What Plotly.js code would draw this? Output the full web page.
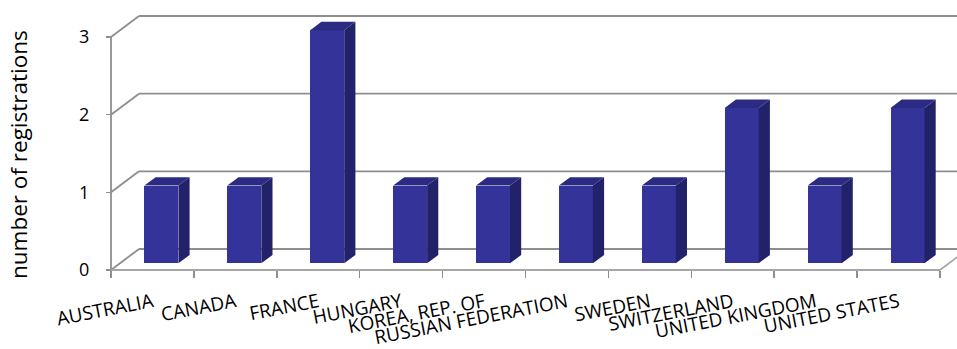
<!DOCTYPE html>
<html>
<head>
<meta charset="utf-8">
<script src="https://cdn.plot.ly/plotly-3.0.1.min.js"></script>
<style>
  html, body { margin: 0; padding: 0; background: #fff; }
  #chart { width: 957px; height: 349px; }
</style>
</head>
<body>
<div id="chart"></div>
<script>
// Registrations per country
const categories = ['AUSTRALIA', 'CANADA', 'FRANCE', 'HUNGARY', 'KOREA, REP. OF',
                    'RUSSIAN FEDERATION', 'SWEDEN', 'SWITZERLAND', 'UNITED KINGDOM', 'UNITED STATES'];
const registrations = [1, 1, 3, 1, 1, 1, 1, 2, 1, 2];
const valueTicks = [0, 1, 2, 3];

// ---- layout geometry (pixels) ----
const W = 957, H = 349;
const M = { l: 90, r: 0, t: 8, b: 59 };
const plotW = W - M.l - M.r, plotH = H - M.t - M.b;
const frontLeftPx = 111;      // left edge of the front plane
const floorPx = 270;          // front floor line
const catPx = 82.9;           // width of one category on the front plane
const unitPx = 77.67;         // height of one unit on the front plane

const x0 = -0.5 - (frontLeftPx - M.l) / catPx;
const x1 = -0.5 + (W - M.r - frontLeftPx) / catPx;
const y0 = -(M.t + plotH - floorPx) / unitPx;
const y1 = (floorPx - M.t) / unitPx;

// oblique depth offset of the back wall (in data units)
const DX = 28 / catPx;
const DY = 21 / unitPx;
// bar depth range (fraction of the full depth) and bar width
const F0 = 0.32, F1 = 0.72, BW = 0.41;

const nCat = categories.length;
const idx = categories.map((_, i) => i);
const left = -0.5, right = nCat - 0.5;
const topV = valueTicks[valueTicks.length - 1];

// ---- walls and floor ----
const gridColor = '#8e8e8e';
const seg = (xa, ya, xb, yb, color) => ({
  type: 'line', layer: 'below', xref: 'x', yref: 'y',
  x0: xa, y0: ya, x1: xb, y1: yb,
  line: { color: color || gridColor, width: 1.8 }
});
const shapes = [];
shapes.push(seg(left, 0, left, topV));
valueTicks.forEach(v => {
  shapes.push(seg(left, v, left + DX, v + DY));
  shapes.push(seg(left + DX, v + DY, right + DX, v + DY));
});
shapes.push(seg(left, 0, right, 0, '#a6a6a6'));
shapes.push(seg(right, 0, right + DX, DY, '#a6a6a6'));

// ---- bar side and top faces ----
const sideX = [], sideY = [], topX = [], topY = [];
idx.forEach(i => {
  const v = registrations[i];
  const xl = i - BW / 2, xr = i + BW / 2;
  sideX.push(xr + F0 * DX, xr + F0 * DX, xr + F1 * DX, xr + F1 * DX, xr + F0 * DX, null);
  sideY.push(F0 * DY, v + F0 * DY, v + F1 * DY, F1 * DY, F0 * DY, null);
  topX.push(xl + F0 * DX, xr + F0 * DX, xr + F1 * DX, xl + F1 * DX, xl + F0 * DX, null);
  topY.push(v + F0 * DY, v + F0 * DY, v + F1 * DY, v + F1 * DY, v + F0 * DY, null);
});

const traces = [
  {
    type: 'bar',
    x: idx.map(i => i + F0 * DX),
    y: registrations,
    base: registrations.map(() => F0 * DY),
    width: BW,
    marker: { color: '#333399', line: { width: 0 } },
    hoverinfo: 'skip',
    showlegend: false
  },
  {
    type: 'scatter', mode: 'lines', x: sideX, y: sideY,
    fill: 'toself', fillcolor: '#22226b',
    line: { width: 0, color: '#22226b' },
    hoverinfo: 'skip', showlegend: false
  },
  {
    type: 'scatter', mode: 'lines', x: topX, y: topY,
    fill: 'toself', fillcolor: '#2b2b83',
    line: { width: 0, color: '#2b2b83' },
    hoverinfo: 'skip', showlegend: false
  }
];

const font = 'Open Sans, sans-serif';
const layout = {
  width: W, height: H,
  margin: M,
  paper_bgcolor: '#fff', plot_bgcolor: '#fff',
  showlegend: false,
  bargap: 0,
  xaxis: {
    type: 'linear', range: [x0, x1], fixedrange: true,
    anchor: 'free', position: (M.t + plotH - floorPx) / plotH,
    tickmode: 'array', tickvals: idx, ticktext: categories,
    tickangle: -11, ticks: '',
    minor: { tick0: -0.5, dtick: 1, ticks: 'outside', ticklen: 7, tickwidth: 1.5, tickcolor: gridColor, showgrid: false },
    ticklabelstandoff: 17,
    tickfont: { family: font, size: 19, color: '#000' },
    showgrid: false, zeroline: false, showline: false
  },
  yaxis: {
    type: 'linear', range: [y0, y1], fixedrange: true,
    anchor: 'free', position: (frontLeftPx - M.l) / plotW,
    tickmode: 'array', tickvals: valueTicks,
    ticks: 'outside', ticklen: 5, tickwidth: 1.5, tickcolor: gridColor,
    ticklabelstandoff: 13,
    tickfont: { family: font, size: 18, color: '#000' },
    showgrid: false, zeroline: false, showline: false
  },
  shapes: shapes,
  annotations: [{
    text: 'number of registrations', textangle: -90, showarrow: false,
    xref: 'paper', yref: 'paper',
    x: (19 - M.l) / plotW, y: (M.t + plotH - 155) / plotH,
    xanchor: 'center', yanchor: 'middle',
    font: { family: font, size: 22.5, color: '#000' }
  }]
};

Plotly.newPlot('chart', traces, layout, { displayModeBar: false, staticPlot: true });
</script>
</body>
</html>
